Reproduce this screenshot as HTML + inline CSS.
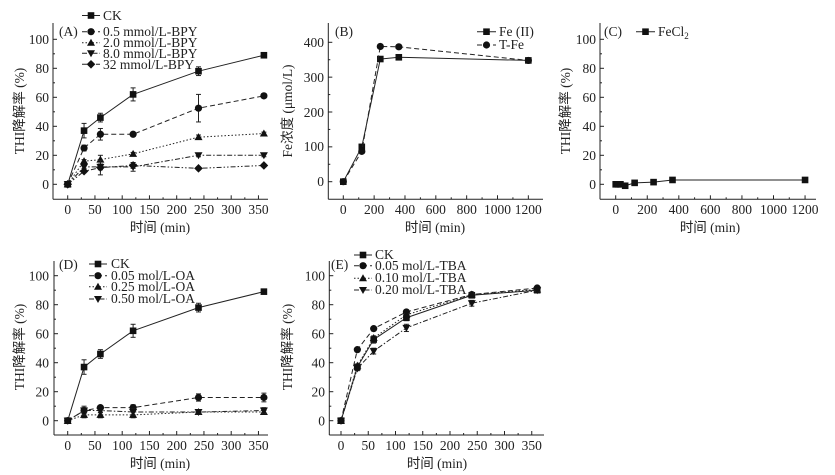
<!DOCTYPE html>
<html><head><meta charset="utf-8"><style>
html,body{margin:0;padding:0;background:#fff}
svg{display:block}
text{font-family:"Liberation Serif","Noto Sans CJK SC",serif;fill:#222}
</style></head><body>
<svg id="s" width="835" height="475" viewBox="0 0 835 475" xmlns="http://www.w3.org/2000/svg">
<g id="g"></g>
<g font-size="13.5">
<!-- A -->
<g text-anchor="end">
<text x="49" y="189">0</text><text x="49" y="160">20</text><text x="49" y="131">40</text><text x="49" y="102">60</text><text x="49" y="73">80</text><text x="49" y="44">100</text>
</g>
<g text-anchor="middle">
<text x="67.7" y="214">0</text><text x="94.9" y="214">50</text><text x="122.2" y="214">100</text><text x="149.5" y="214">150</text><text x="176.7" y="214">200</text><text x="204" y="214">250</text><text x="231.2" y="214">300</text><text x="258.5" y="214">350</text>
<text x="160" y="232">时间 (min)</text>
<text transform="translate(24,111) rotate(-90)">THI降解率 (%)</text>
</g>
<text x="59" y="36">(A)</text>
<text x="103" y="20">CK</text><text x="103" y="36">0.5 mmol/L-BPY</text><text x="103" y="47">2.0 mmol/L-BPY</text><text x="103" y="58">8.0 mmol/L-BPY</text><text x="103" y="69">32  mmol/L-BPY</text>
<!-- B -->
<g text-anchor="end">
<text x="324" y="186">0</text><text x="324" y="151">100</text><text x="324" y="117">200</text><text x="324" y="82">300</text><text x="324" y="47">400</text>
</g>
<g text-anchor="middle">
<text x="343.3" y="214">0</text><text x="374.1" y="214">200</text><text x="405" y="214">400</text><text x="435.8" y="214">600</text><text x="466.7" y="214">800</text><text x="497.5" y="214">1000</text><text x="528.3" y="214">1200</text>
<text x="435" y="232">时间 (min)</text>
<text transform="translate(292,111) rotate(-90)">Fe浓度 (μmol/L)</text>
</g>
<text x="335" y="36">(B)</text>
<text x="499" y="36">Fe (II)</text><text x="499" y="49">T-Fe</text>
<!-- C -->
<g text-anchor="end">
<text x="596" y="189">0</text><text x="596" y="160">20</text><text x="596" y="131">40</text><text x="596" y="102">60</text><text x="596" y="73">80</text><text x="596" y="44">100</text>
</g>
<g text-anchor="middle">
<text x="615.7" y="214">0</text><text x="647.3" y="214">200</text><text x="678.8" y="214">400</text><text x="710.4" y="214">600</text><text x="741.9" y="214">800</text><text x="773.5" y="214">1000</text><text x="805" y="214">1200</text>
<text x="710" y="232">时间 (min)</text>
<text transform="translate(570,111) rotate(-90)">THI降解率 (%)</text>
</g>
<text x="604" y="36">(C)</text>
<text x="658" y="36">FeCl<tspan font-size="9" dy="3">2</tspan></text>
<!-- D -->
<g text-anchor="end">
<text x="49" y="425.4">0</text><text x="49" y="396.4">20</text><text x="49" y="367.4">40</text><text x="49" y="338.4">60</text><text x="49" y="309.4">80</text><text x="49" y="280.4">100</text>
</g>
<g text-anchor="middle">
<text x="67.7" y="450">0</text><text x="94.9" y="450">50</text><text x="122.2" y="450">100</text><text x="149.5" y="450">150</text><text x="176.7" y="450">200</text><text x="204" y="450">250</text><text x="231.2" y="450">300</text><text x="258.5" y="450">350</text>
<text x="160" y="468">时间 (min)</text>
<text transform="translate(24,347) rotate(-90)">THI降解率 (%)</text>
</g>
<text x="59" y="269">(D)</text>
<text x="111" y="268">CK</text><text x="111" y="280">0.05 mol/L-OA</text><text x="111" y="291">0.25 mol/L-OA</text><text x="111" y="303">0.50 mol/L-OA</text>
<!-- E -->
<g text-anchor="end">
<text x="325" y="425.4">0</text><text x="325" y="396.4">20</text><text x="325" y="367.4">40</text><text x="325" y="338.4">60</text><text x="325" y="309.4">80</text><text x="325" y="280.4">100</text>
</g>
<g text-anchor="middle">
<text x="341" y="450">0</text><text x="368.2" y="450">50</text><text x="395.5" y="450">100</text><text x="422.7" y="450">150</text><text x="450" y="450">200</text><text x="477.2" y="450">250</text><text x="504.5" y="450">300</text><text x="531.7" y="450">350</text>
<text x="437" y="468">时间 (min)</text>
<text transform="translate(292,347) rotate(-90)">THI降解率 (%)</text>
</g>
<text x="331" y="269">(E)</text>
<text x="375" y="259">CK</text><text x="375" y="270">0.05 mol/L-TBA</text><text x="375" y="282">0.10 mol/L-TBA</text><text x="375" y="294">0.20 mol/L-TBA</text>
</g>
</svg>
<script>
var NS="http://www.w3.org/2000/svg",G=document.getElementById("g");
function el(t,a){var e=document.createElementNS(NS,t);for(var k in a)e.setAttribute(k,a[k]);G.appendChild(e);return e;}
function line(x1,y1,x2,y2,w){el("line",{x1:x1,y1:y1,x2:x2,y2:y2,stroke:"#222","stroke-width":w||1});}
var DASH=["","5,3","1.5,2","5,2,1.5,2","5,2,1.5,2,1.5,2"];
function marker(k,x,y){
 if(k==0)el("rect",{x:x-3.3,y:y-3.3,width:6.6,height:6.6,fill:"#111"});
 else if(k==1)el("circle",{cx:x,cy:y,r:3.6,fill:"#111"});
 else if(k==2)el("polygon",{points:(x)+","+(y-4)+" "+(x-4)+","+(y+3)+" "+(x+4)+","+(y+3),fill:"#111"});
 else if(k==3)el("polygon",{points:(x)+","+(y+4)+" "+(x-4)+","+(y-3)+" "+(x+4)+","+(y-3),fill:"#111"});
 else el("polygon",{points:(x)+","+(y-4.3)+" "+(x+4.3)+","+y+" "+x+","+(y+4.3)+" "+(x-4.3)+","+y,fill:"#111"});
}
function axes(L,R,B,T,xt,yt,xminor){
 line(L,B,R,B);line(L,B,L,T);
 xt.forEach(function(x){line(x,B,x,B-4);});
 xminor.forEach(function(x){line(x,B,x,B-2);});
 yt.forEach(function(y,i){line(L,y,L+4,y);if(i<yt.length-1)line(L,(y+yt[i+1])/2,L+2,(y+yt[i+1])/2);});
}
function series(X,Y,data,k){
 var p=data.map(function(d){return X(d[0])+","+Y(d[1]);}).join(" ");
 el("polyline",{points:p,fill:"none",stroke:"#222","stroke-width":1,"stroke-dasharray":DASH[k]});
 data.forEach(function(d){
  if(d[2]){var x=X(d[0]),a=Y(d[1]+d[2]),b=Y(d[1]-d[2]);line(x,a,x,b);line(x-2.5,a,x+2.5,a);line(x-2.5,b,x+2.5,b);}
  marker(k,X(d[0]),Y(d[1]));
 });
}
function legend(x1,x2,y,k){el("line",{x1:x1,y1:y,x2:x2,y2:y,stroke:"#222","stroke-dasharray":DASH[k]});marker(k,(x1+x2)/2,y);}
function rng(a,b,s){var r=[];for(var v=a;v<=b+1e-9;v+=s)r.push(v);return r;}
(function(){
 var X=function(t){return 67.7+0.545*t},Y=function(v){return 184.3-1.45*v};
 axes(53,268,199.3,23,rng(0,350,50).map(X),rng(0,100,20).map(Y),rng(25,375,50).map(X).filter(function(x){return x<268}));
 series(X,Y,[[0,0],[30,37,5],[60,46,3],[120,62,4.5],[240,78,3],[360,89,1.5]],0);
 series(X,Y,[[0,0],[30,25,2],[60,34.5,4],[120,34.5,1],[240,52.5,9.5],[360,61,1.5]],1);
 series(X,Y,[[0,0],[30,16,1],[60,17,3],[120,21,1],[240,32.5,1.5],[360,35,1]],2);
 series(X,Y,[[0,0],[30,12,1],[60,12,2],[120,12,3],[240,20,1],[360,20,1]],3);
 series(X,Y,[[0,0],[30,9,1],[60,11.5,5],[120,13,2],[240,11,1],[360,13,1]],4);
 legend(82,100,15.5,0);legend(82,100,31.7,1);legend(82,100,42.7,2);legend(82,100,53.3,3);legend(82,100,64.3,4);
})();
(function(){
 var X=function(t){return 343.3+0.1542*t},Y=function(v){return 181.7-0.3485*v};
 axes(328.3,543,199.3,23,rng(0,1200,200).map(X),rng(0,400,100).map(Y),rng(100,1300,200).map(X).filter(function(x){return x<543}));
 series(X,Y,[[0,0],[120,100],[240,352],[360,357],[1200,348]],0);
 series(X,Y,[[0,0],[120,87],[240,388],[360,387],[1200,348]],1);
 legend(477,496,31.7,0);legend(477,496,45,1);
})();
(function(){
 var X=function(t){return 615.7+0.1578*t},Y=function(v){return 184.3-1.45*v};
 axes(600,816,199.3,23,rng(0,1200,200).map(X),rng(0,100,20).map(Y),rng(100,1300,200).map(X).filter(function(x){return x<816}));
 series(X,Y,[[0,0],[15,0],[30,0],[60,-1],[120,1],[240,1.5],[360,3],[1200,3]],0);
 legend(636,655,31.7,0);
})();
(function(){
 var X=function(t){return 67.7+0.545*t},Y=function(v){return 420.7-1.45*v};
 axes(54,268,435,261,rng(0,350,50).map(X),rng(0,100,20).map(Y),rng(25,375,50).map(X).filter(function(x){return x<268}));
 series(X,Y,[[0,0],[30,37,5],[60,46,3],[120,62,4.5],[240,78,3],[360,89,1.5]],0);
 series(X,Y,[[0,0],[30,7,2],[60,9,1.5],[120,9,2],[240,16,2.5],[360,16,3]],1);
 series(X,Y,[[0,0],[30,4,2],[60,4,2],[120,4,2],[240,6,1],[360,6,1]],2);
 series(X,Y,[[0,0],[30,7,3],[60,7,1.5],[120,6,2],[240,6,1.5],[360,7,2]],3);
 legend(89,107,264,0);legend(89,107,275.7,1);legend(89,107,286.7,2);legend(89,107,299,3);
})();
(function(){
 var X=function(t){return 341+0.545*t},Y=function(v){return 420.7-1.45*v};
 axes(329.3,544,435,261,rng(0,350,50).map(X),rng(0,100,20).map(Y),rng(25,375,50).map(X).filter(function(x){return x<544}));
 series(X,Y,[[0,0],[30,37,2],[60,56,2.5],[120,71,2],[240,86.5,1],[360,90,1]],0);
 series(X,Y,[[0,0],[30,49,1],[60,63.5,1],[120,75,1],[240,87,1],[360,91.5,1]],1);
 series(X,Y,[[0,0],[30,38,1],[60,57,1],[120,73,1],[240,87,1],[360,90.5,1]],2);
 series(X,Y,[[0,0],[30,36,1.5],[60,48,2],[120,64,2.5],[240,81,2],[360,90,1]],3);
 legend(354,372,255,0);legend(354,372,265.7,1);legend(354,372,278.3,2);legend(354,372,290,3);
})();
</script>
</body></html>
